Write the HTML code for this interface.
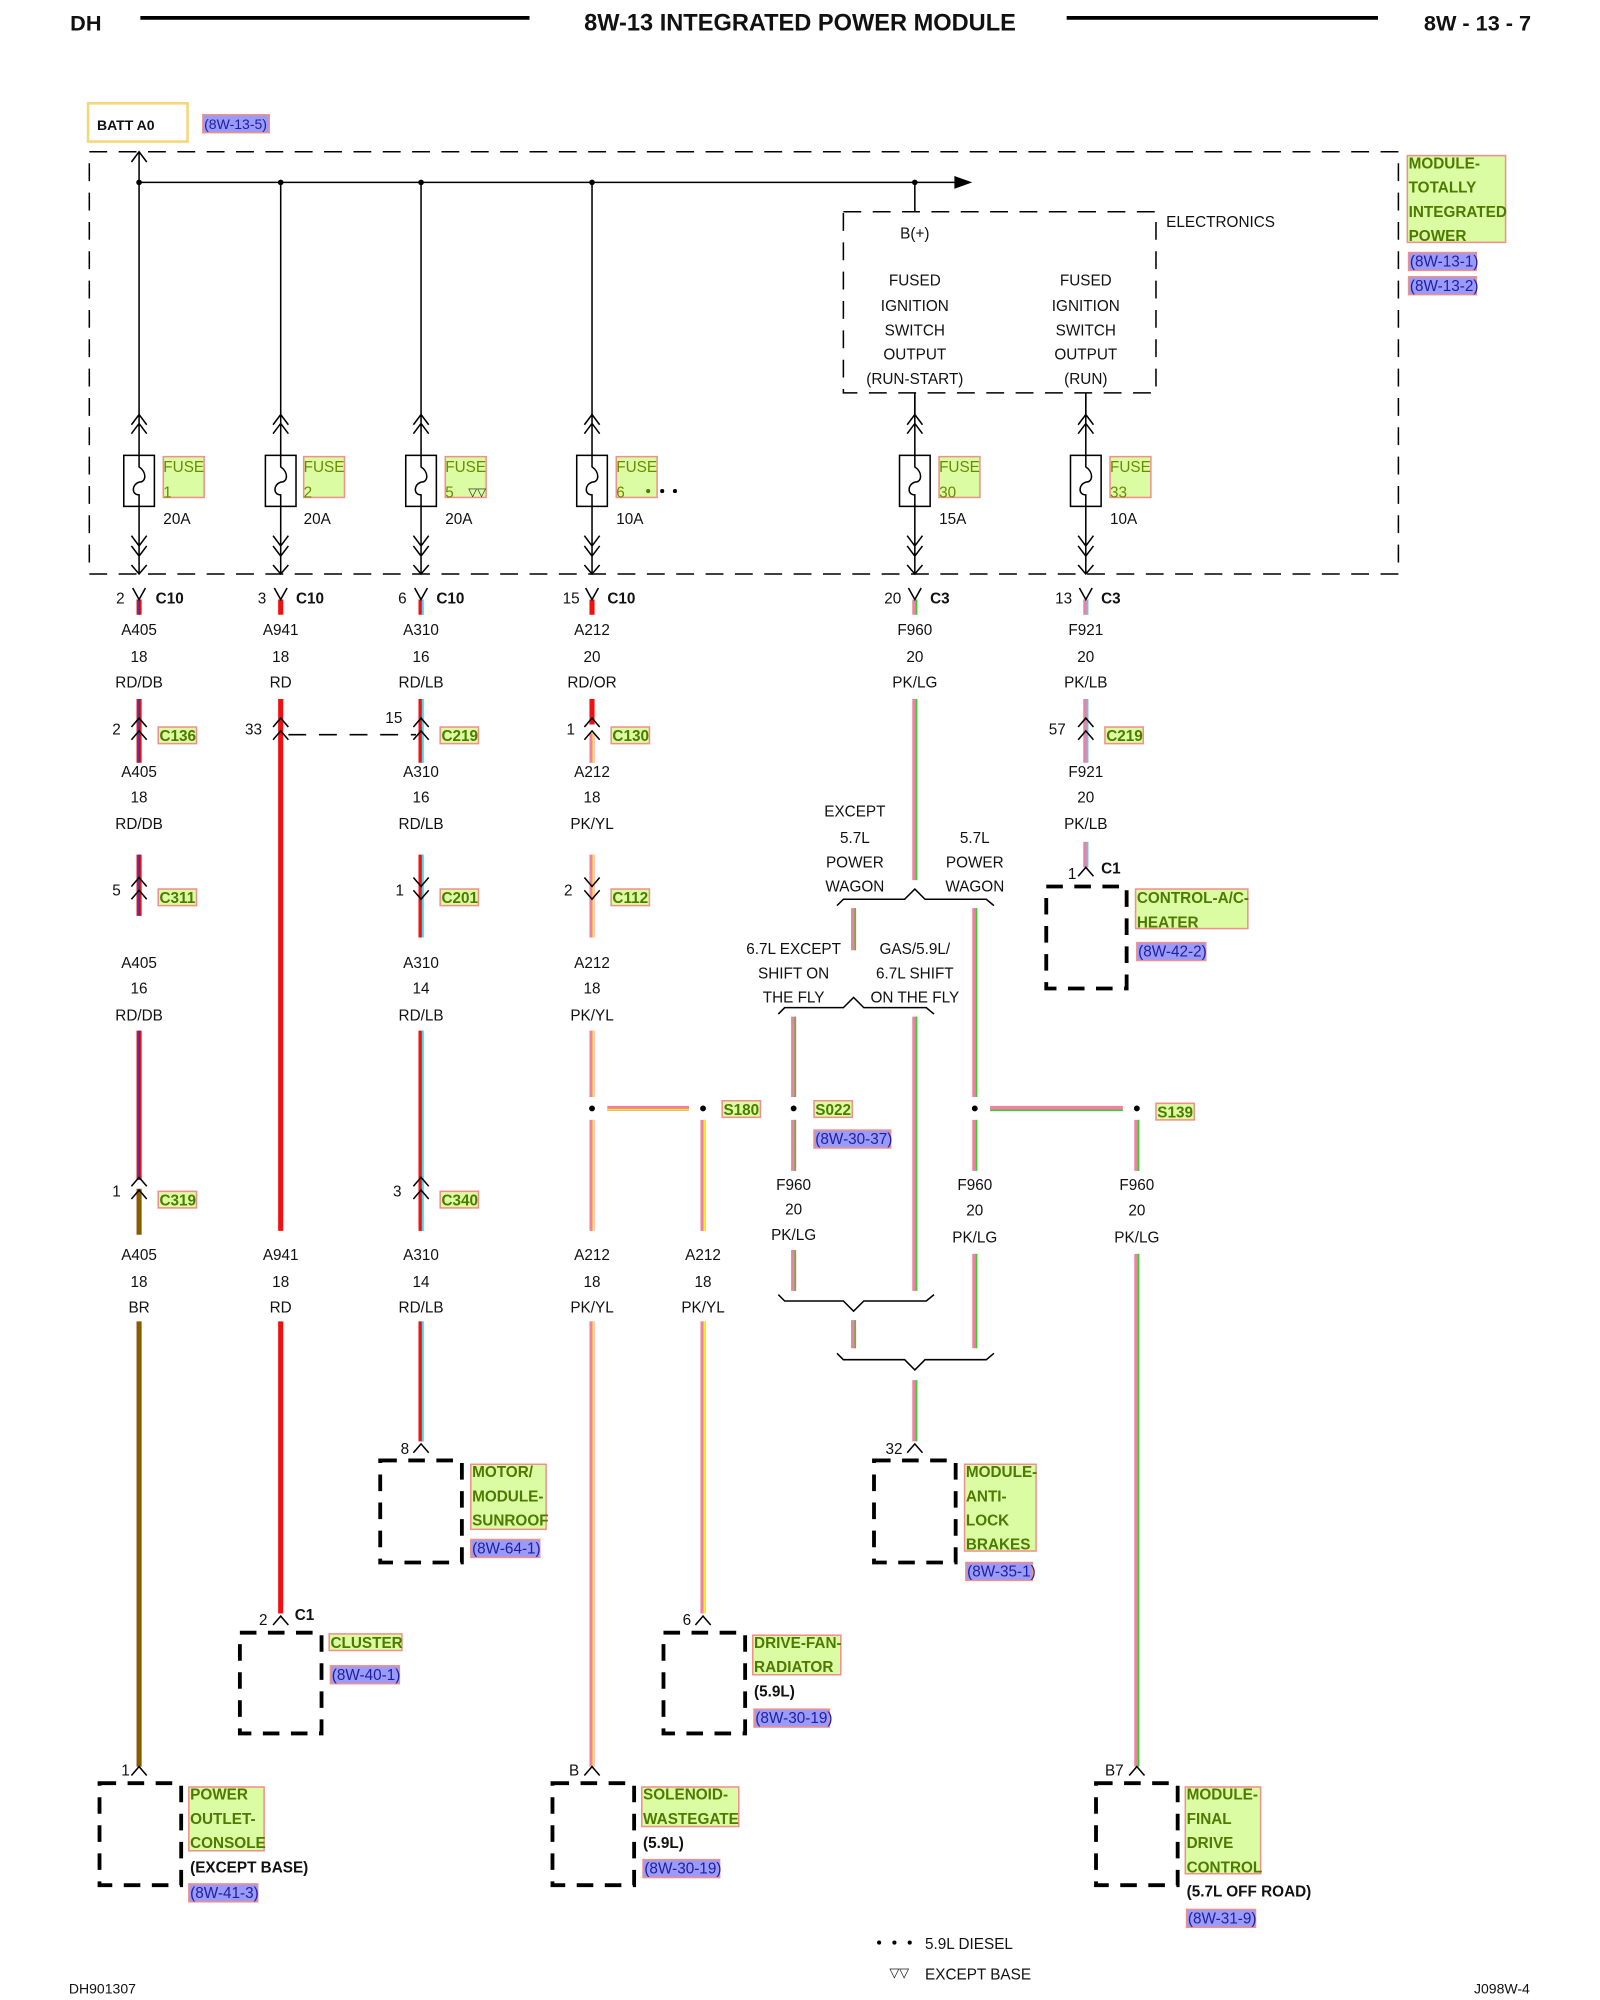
<!DOCTYPE html>
<html><head><meta charset="utf-8"><style>
html,body{margin:0;padding:0;background:#fff;}
svg{display:block;}
text{font-family:"Liberation Sans",Arial,sans-serif;font-size:12px;fill:#111;}
.b{font-weight:bold;}
.m{text-anchor:middle;}
.g{fill:#4d7a00;font-weight:bold;}
.r{fill:#1e1ea0;}
.gb{fill:#dcfca4;stroke:#f0908a;stroke-width:1.2;}
.bb{fill:#9a9af8;stroke:#f0908a;stroke-width:1.2;}
.k{stroke:#000;fill:none;stroke-width:1.2;}
.mod{fill:none;stroke:#000;stroke-width:3;stroke-dasharray:13 9;}
</style></head><body>
<svg width="1600" height="2000" viewBox="0 0 1254 1568" preserveAspectRatio="none" xmlns="http://www.w3.org/2000/svg">
<!-- header -->
<text x="55" y="24" class="b" style="font-size:17px">DH</text>
<line x1="110" y1="14" x2="415" y2="14" stroke="#000" stroke-width="3"/>
<text x="627" y="24" class="b m" style="font-size:18.5px">8W-13 INTEGRATED POWER MODULE</text>
<line x1="836" y1="14" x2="1080" y2="14" stroke="#000" stroke-width="3"/>
<text x="1200" y="24" class="b" style="font-size:17px;text-anchor:end">8W - 13 - 7</text>

<!-- BATT -->
<rect x="69" y="81" width="78" height="30" fill="#fff" stroke="#f5d77a" stroke-width="2"/>
<text x="76" y="102" class="b" style="font-size:11px">BATT A0</text>
<rect x="159" y="90" width="52" height="14" class="bb"/>
<text x="160" y="101" class="r" style="font-size:11px">(8W-13-5)</text>

<!-- module dashed box -->
<rect x="70" y="119" width="1026" height="331" fill="none" stroke="#000" stroke-width="1.2" stroke-dasharray="14 9"/>
<rect x="1103" y="122" width="77" height="68" class="gb"/>
<text x="1104" y="132" class="g">MODULE-</text>
<text x="1104" y="151" class="g">TOTALLY</text>
<text x="1104" y="170" class="g">INTEGRATED</text>
<text x="1104" y="189" class="g">POWER</text>
<rect x="1104" y="198" width="53" height="14" class="bb"/>
<text x="1105" y="209" class="r">(8W-13-1)</text>
<rect x="1104" y="217" width="53" height="14" class="bb"/>
<text x="1105" y="228" class="r">(8W-13-2)</text>

<!-- bus -->
<path class="k" d="M109 143 H752"/>
<path d="M748 138 L762 143 L748 148 Z" fill="#000"/>
<path class="k" d="M109 119 V325 M220 143 V325 M330 143 V325 M464 143 V325 M717 143 V166"/>
<path class="k" d="M103 127 L109 119 L115 127"/>
<g fill="#000"><circle cx="109" cy="143" r="2.2"/><circle cx="220" cy="143" r="2.2"/><circle cx="330" cy="143" r="2.2"/><circle cx="464" cy="143" r="2.2"/><circle cx="717" cy="143" r="2.2"/></g>

<!-- electronics box -->
<rect x="661" y="166" width="245" height="142" fill="none" stroke="#000" stroke-width="1.2" stroke-dasharray="14 9"/>
<text x="914" y="178">ELECTRONICS</text>
<text x="717" y="187" class="m">B(+)</text>
<text x="717" y="224" class="m">FUSED</text><text x="717" y="244" class="m">IGNITION</text><text x="717" y="263" class="m">SWITCH</text><text x="717" y="282" class="m">OUTPUT</text><text x="717" y="301" class="m">(RUN-START)</text>
<text x="851" y="224" class="m">FUSED</text><text x="851" y="244" class="m">IGNITION</text><text x="851" y="263" class="m">SWITCH</text><text x="851" y="282" class="m">OUTPUT</text><text x="851" y="301" class="m">(RUN)</text>
<path class="k" d="M717 308 V325 M851 308 V325"/>

<!-- fuses -->
<g id="fuses">
<path class="k" d="
M109 325 V450 M103 333 L109 325 L115 333 M103 340 L109 332 L115 340 M103 420 L109 428 L115 420 M103 428 L109 436 L115 428 M103 443 L109 450 L115 443
M220 325 V450 M214 333 L220 325 L226 333 M214 340 L220 332 L226 340 M214 420 L220 428 L226 420 M214 428 L220 436 L226 428 M214 443 L220 450 L226 443
M330 325 V450 M324 333 L330 325 L336 333 M324 340 L330 332 L336 340 M324 420 L330 428 L336 420 M324 428 L330 436 L336 428 M324 443 L330 450 L336 443
M464 325 V450 M458 333 L464 325 L470 333 M458 340 L464 332 L470 340 M458 420 L464 428 L470 420 M458 428 L464 436 L470 428 M458 443 L464 450 L470 443
M717 308 V450 M711 333 L717 325 L723 333 M711 340 L717 332 L723 340 M711 420 L717 428 L723 420 M711 428 L717 436 L723 428 M711 443 L717 450 L723 443
M851 308 V450 M845 333 L851 325 L857 333 M845 340 L851 332 L857 340 M845 420 L851 428 L857 420 M845 428 L851 436 L857 428 M845 443 L851 450 L857 443"/>
<g fill="#fff" stroke="#000" stroke-width="1.2">
<rect x="97" y="357" width="24" height="40"/><rect x="208" y="357" width="24" height="40"/><rect x="318" y="357" width="24" height="40"/><rect x="452" y="357" width="24" height="40"/><rect x="705" y="357" width="24" height="40"/><rect x="839" y="357" width="24" height="40"/>
</g>
<path class="k" d="M109 357 V366 C115 370 115 378 109 378 C103 380 103 388 109 388 V397
M220 357 V366 C226 370 226 378 220 378 C214 380 214 388 220 388 V397
M330 357 V366 C336 370 336 378 330 378 C324 380 324 388 330 388 V397
M464 357 V366 C470 370 470 378 464 378 C458 380 458 388 464 388 V397
M717 357 V366 C723 370 723 378 717 378 C711 380 711 388 717 388 V397
M851 357 V366 C857 370 857 378 851 378 C845 380 845 388 851 388 V397"/>
<g>
<rect x="128" y="358" width="32" height="32" class="gb"/><text x="128" y="370" style="fill:#6b8a00">FUSE</text><text x="128" y="390" style="fill:#6b8a00">1</text><text x="128" y="411">20A</text>
<rect x="238" y="358" width="32" height="32" class="gb"/><text x="238" y="370" style="fill:#6b8a00">FUSE</text><text x="238" y="390" style="fill:#6b8a00">2</text><text x="238" y="411">20A</text>
<rect x="349" y="358" width="32" height="32" class="gb"/><text x="349" y="370" style="fill:#6b8a00">FUSE</text><text x="349" y="390" style="fill:#6b8a00">5</text><text x="367" y="389" style="font-size:9px">▽▽</text><text x="349" y="411">20A</text>
<rect x="483" y="358" width="32" height="32" class="gb"/><text x="483" y="370" style="fill:#6b8a00">FUSE</text><text x="483" y="390" style="fill:#6b8a00">6</text><text x="483" y="411">10A</text>
<circle cx="508" cy="385" r="1.6" fill="#4d7a00"/><circle cx="519" cy="385" r="1.6" fill="#000"/><circle cx="529" cy="385" r="1.6" fill="#000"/>
<rect x="736" y="358" width="32" height="32" class="gb"/><text x="736" y="370" style="fill:#6b8a00">FUSE</text><text x="736" y="390" style="fill:#6b8a00">30</text><text x="736" y="411">15A</text>
<rect x="870" y="358" width="32" height="32" class="gb"/><text x="870" y="370" style="fill:#6b8a00">FUSE</text><text x="870" y="390" style="fill:#6b8a00">33</text><text x="870" y="411">10A</text>
</g>
</g>

<!-- wires -->
<g fill="none" stroke-width="4">
<path stroke="#f01010" d="M109 470V482M109 548V598M109 670V718M109 808V925"/>
<path stroke="#2040c0" stroke-width="1.3" d="M109 470V482M109 548V598M109 670V718M109 808V925"/>
<path stroke="#8a5a00" d="M109 932V968M109 1036V1385"/>
<path stroke="#f01010" d="M220 470V482M220 548V965M220 1036V1265"/>
<path stroke="#f01010" d="M330 470V482M330 548V598M330 670V735M330 808V965M330 1036V1130"/>
<path stroke="#40d8f0" stroke-width="1.3" transform="translate(1.2 0)" d="M330 470V482M330 548V598M330 670V735M330 808V965M330 1036V1130"/>
<path stroke="#f01010" d="M464 470V482M464 548V568"/>
<path stroke="#f080a0" d="M464 575V598M464 670V735M464 808V860M464 878V965M464 1036V1385M551 878V965M551 1036V1265M476 869H540"/>
<path stroke="#f8f020" stroke-width="1.3" transform="translate(1 0)" d="M464 575V598M464 670V735M464 808V860M464 878V965M464 1036V1385M551 878V965M551 1036V1265"/>
<path stroke="#f8f020" stroke-width="1.3" d="M476 870H540"/>
<path stroke="#f080a0" d="M717 470V482M717 548V690M717 1082V1130M669 712V745M669 1035V1057M764 712V860M764 878V918M764 983V1057M622 797V860M622 878V918M622 980V1012M717 797V1012M891 878V918M891 983V1385M776 869H880"/>
<path stroke="#30d030" stroke-width="1.2" transform="translate(1.3 0)" d="M717 470V482M717 548V690M717 1082V1130M669 712V745M669 1035V1057M764 712V860M764 878V918M764 983V1057M622 797V860M622 878V918M622 980V1012M717 797V1012M891 878V918M891 983V1385"/>
<path stroke="#30d030" stroke-width="1.2" d="M776 870.5H880"/>
<path stroke="#f080a0" d="M851 470V482M851 548V598M851 660V680"/>
<path stroke="#40d8f0" stroke-width="1.3" transform="translate(1.3 0)" d="M851 470V482M851 548V598M851 660V680"/>
</g>

<!-- C10 / C3 connectors -->
<path class="k" d="M104 461 L109 470 L114 461 M215 461 L220 470 L225 461 M325 461 L330 470 L335 461 M459 461 L464 470 L469 461 M712 461 L717 470 L722 461 M846 461 L851 470 L856 461"/>
<text x="91" y="473">2</text><text x="122" y="473" class="b">C10</text>
<text x="202" y="473">3</text><text x="232" y="473" class="b">C10</text>
<text x="312" y="473">6</text><text x="342" y="473" class="b">C10</text>
<text x="441" y="473">15</text><text x="476" y="473" class="b">C10</text>
<text x="693" y="473">20</text><text x="729" y="473" class="b">C3</text>
<text x="827" y="473">13</text><text x="863" y="473" class="b">C3</text>

<!-- wire labels -->
<g class="m">
<text x="109" y="498" class="m">A405</text><text x="109" y="519" class="m">18</text><text x="109" y="539" class="m">RD/DB</text>
<text x="220" y="498" class="m">A941</text><text x="220" y="519" class="m">18</text><text x="220" y="539" class="m">RD</text>
<text x="330" y="498" class="m">A310</text><text x="330" y="519" class="m">16</text><text x="330" y="539" class="m">RD/LB</text>
<text x="464" y="498" class="m">A212</text><text x="464" y="519" class="m">20</text><text x="464" y="539" class="m">RD/OR</text>
<text x="717" y="498" class="m">F960</text><text x="717" y="519" class="m">20</text><text x="717" y="539" class="m">PK/LG</text>
<text x="851" y="498" class="m">F921</text><text x="851" y="519" class="m">20</text><text x="851" y="539" class="m">PK/LB</text>

<text x="109" y="609" class="m">A405</text><text x="109" y="629" class="m">18</text><text x="109" y="650" class="m">RD/DB</text>
<text x="330" y="609" class="m">A310</text><text x="330" y="629" class="m">16</text><text x="330" y="650" class="m">RD/LB</text>
<text x="464" y="609" class="m">A212</text><text x="464" y="629" class="m">18</text><text x="464" y="650" class="m">PK/YL</text>
<text x="851" y="609" class="m">F921</text><text x="851" y="629" class="m">20</text><text x="851" y="650" class="m">PK/LB</text>

<text x="109" y="759" class="m">A405</text><text x="109" y="779" class="m">16</text><text x="109" y="800" class="m">RD/DB</text>
<text x="330" y="759" class="m">A310</text><text x="330" y="779" class="m">14</text><text x="330" y="800" class="m">RD/LB</text>
<text x="464" y="759" class="m">A212</text><text x="464" y="779" class="m">18</text><text x="464" y="800" class="m">PK/YL</text>

<text x="109" y="988" class="m">A405</text><text x="109" y="1009" class="m">18</text><text x="109" y="1029" class="m">BR</text>
<text x="220" y="988" class="m">A941</text><text x="220" y="1009" class="m">18</text><text x="220" y="1029" class="m">RD</text>
<text x="330" y="988" class="m">A310</text><text x="330" y="1009" class="m">14</text><text x="330" y="1029" class="m">RD/LB</text>
<text x="464" y="988" class="m">A212</text><text x="464" y="1009" class="m">18</text><text x="464" y="1029" class="m">PK/YL</text>
<text x="551" y="988" class="m">A212</text><text x="551" y="1009" class="m">18</text><text x="551" y="1029" class="m">PK/YL</text>

<text x="622" y="933" class="m">F960</text><text x="622" y="952" class="m">20</text><text x="622" y="972" class="m">PK/LG</text>
<text x="764" y="933" class="m">F960</text><text x="764" y="953" class="m">20</text><text x="764" y="974" class="m">PK/LG</text>
<text x="891" y="933" class="m">F960</text><text x="891" y="953" class="m">20</text><text x="891" y="974" class="m">PK/LG</text>

<text x="670" y="640" class="m">EXCEPT</text><text x="670" y="661" class="m">5.7L</text><text x="670" y="680" class="m">POWER</text><text x="670" y="699" class="m">WAGON</text>
<text x="764" y="661" class="m">5.7L</text><text x="764" y="680" class="m">POWER</text><text x="764" y="699" class="m">WAGON</text>
<text x="622" y="748" class="m">6.7L EXCEPT</text><text x="622" y="767" class="m">SHIFT ON</text><text x="622" y="786" class="m">THE FLY</text>
<text x="717" y="748" class="m">GAS/5.9L/</text><text x="717" y="767" class="m">6.7L SHIFT</text><text x="717" y="786" class="m">ON THE FLY</text>
</g>

<!-- braces -->
<path class="k" d="M656 710 L661 705 H709 L717 697 L725 705 H773 L779 710"/>
<path class="k" d="M610 795 L615 790 H661 L669 782 L677 790 H726 L732 795"/>
<path class="k" d="M610 1015 L615 1020 H661 L669 1028 L677 1020 H726 L732 1015"/>
<path class="k" d="M656 1061 L661 1066 H709 L717 1074 L725 1066 H773 L779 1061"/>

<!-- mid connectors -->
<path class="k" d="
M103 570 L109 563 L115 570 M103 580 L109 573 L115 580
M214 570 L220 563 L226 570 M214 580 L220 573 L226 580
M324 570 L330 563 L336 570 M324 580 L330 573 L336 580
M458 570 L464 563 L470 570 M458 580 L464 573 L470 580
M845 570 L851 563 L857 570 M845 580 L851 573 L857 580
M103 695 L109 688 L115 695 M103 705 L109 698 L115 705
M324 688 L330 695 L336 688 M324 698 L330 705 L336 698
M458 688 L464 695 L470 688 M458 698 L464 705 L470 698
M103 930 L109 923 L115 930 M103 940 L109 933 L115 940
M324 930 L330 923 L336 930 M324 940 L330 933 L336 940"/>
<path d="M226 576 H326" stroke="#000" stroke-width="1.2" stroke-dasharray="14 10" fill="none"/>
<text x="88" y="576">2</text><rect x="124" y="570" width="30" height="13" class="gb"/><text x="125" y="581" class="g">C136</text>
<text x="192" y="576">33</text>
<text x="302" y="567">15</text><rect x="345" y="570" width="30" height="13" class="gb"/><text x="346" y="581" class="g">C219</text>
<text x="444" y="576">1</text><rect x="479" y="570" width="30" height="13" class="gb"/><text x="480" y="581" class="g">C130</text>
<text x="822" y="576">57</text><rect x="866" y="570" width="30" height="13" class="gb"/><text x="867" y="581" class="g">C219</text>
<text x="88" y="702">5</text><rect x="124" y="697" width="30" height="13" class="gb"/><text x="125" y="708" class="g">C311</text>
<text x="310" y="702">1</text><rect x="345" y="697" width="30" height="13" class="gb"/><text x="346" y="708" class="g">C201</text>
<text x="442" y="702">2</text><rect x="479" y="697" width="30" height="13" class="gb"/><text x="480" y="708" class="g">C112</text>
<text x="88" y="938">1</text><rect x="124" y="934" width="30" height="13" class="gb"/><text x="125" y="945" class="g">C319</text>
<text x="308" y="938">3</text><rect x="345" y="934" width="30" height="13" class="gb"/><text x="346" y="945" class="g">C340</text>

<!-- splices -->
<g fill="#000"><circle cx="464" cy="869" r="2.3"/><circle cx="551" cy="869" r="2.3"/><circle cx="622" cy="869" r="2.3"/><circle cx="764" cy="869" r="2.3"/><circle cx="891" cy="869" r="2.3"/></g>
<rect x="566" y="863" width="30" height="13" class="gb"/><text x="567" y="874" class="g">S180</text>
<rect x="638" y="863" width="30" height="13" class="gb"/><text x="639" y="874" class="g">S022</text>
<rect x="638" y="886" width="60" height="14" class="bb"/><text x="639" y="897" class="r">(8W-30-37)</text>
<rect x="906" y="865" width="30" height="13" class="gb"/><text x="907" y="876" class="g">S139</text>

<!-- component connectors -->
<path class="k" d="M845 687 L851 680 L857 687 M324 1139 L330 1132 L336 1139 M711 1139 L717 1132 L723 1139 M214 1274 L220 1267 L226 1274 M545 1274 L551 1267 L557 1274 M103 1392 L109 1385 L115 1392 M458 1392 L464 1385 L470 1392 M885 1392 L891 1385 L897 1392"/>
<text x="837" y="689">1</text><text x="863" y="685" class="b">C1</text>
<text x="314" y="1140">8</text>
<text x="694" y="1140">32</text>
<text x="203" y="1274">2</text><text x="231" y="1270" class="b">C1</text>
<text x="535" y="1274">6</text>
<text x="95" y="1392">1</text>
<text x="446" y="1392">B</text>
<text x="866" y="1392">B7</text>

<!-- module boxes -->
<rect x="820" y="695" width="63" height="80" class="mod"/>
<rect x="298" y="1145" width="64" height="80" class="mod"/>
<rect x="685" y="1145" width="64" height="80" class="mod"/>
<rect x="188" y="1280" width="64" height="79" class="mod"/>
<rect x="520" y="1280" width="64" height="79" class="mod"/>
<rect x="78" y="1398" width="64" height="80" class="mod"/>
<rect x="433" y="1398" width="64" height="80" class="mod"/>
<rect x="859" y="1398" width="64" height="80" class="mod"/>

<!-- component labels -->
<rect x="890" y="697" width="88" height="31" class="gb"/><text x="891" y="708" class="g">CONTROL-A/C-</text><text x="891" y="727" class="g">HEATER</text>
<rect x="891" y="739" width="54" height="14" class="bb"/><text x="892" y="750" class="r">(8W-42-2)</text>

<rect x="369" y="1148" width="59" height="51" class="gb"/><text x="370" y="1158" class="g">MOTOR/</text><text x="370" y="1177" class="g">MODULE-</text><text x="370" y="1196" class="g">SUNROOF</text>
<rect x="369" y="1207" width="54" height="14" class="bb"/><text x="370" y="1218" class="r">(8W-64-1)</text>

<rect x="756" y="1148" width="56" height="68" class="gb"/><text x="757" y="1158" class="g">MODULE-</text><text x="757" y="1177" class="g">ANTI-</text><text x="757" y="1196" class="g">LOCK</text><text x="757" y="1215" class="g">BRAKES</text>
<rect x="757" y="1225" width="52" height="14" class="bb"/><text x="758" y="1236" class="r">(8W-35-1)</text>

<rect x="258" y="1281" width="57" height="13" class="gb"/><text x="259" y="1292" class="g">CLUSTER</text>
<rect x="259" y="1306" width="54" height="14" class="bb"/><text x="260" y="1317" class="r">(8W-40-1)</text>

<rect x="590" y="1282" width="69" height="31" class="gb"/><text x="591" y="1292" class="g">DRIVE-FAN-</text><text x="591" y="1311" class="g">RADIATOR</text>
<text x="591" y="1330" class="b">(5.9L)</text>
<rect x="591" y="1340" width="59" height="14" class="bb"/><text x="592" y="1351" class="r">(8W-30-19)</text>

<rect x="148" y="1401" width="59" height="50" class="gb"/><text x="149" y="1411" class="g">POWER</text><text x="149" y="1430" class="g">OUTLET-</text><text x="149" y="1449" class="g">CONSOLE</text>
<text x="149" y="1468" class="b">(EXCEPT BASE)</text>
<rect x="148" y="1477" width="54" height="14" class="bb"/><text x="149" y="1488" class="r">(8W-41-3)</text>

<rect x="503" y="1401" width="76" height="31" class="gb"/><text x="504" y="1411" class="g">SOLENOID-</text><text x="504" y="1430" class="g">WASTEGATE</text>
<text x="504" y="1449" class="b">(5.9L)</text>
<rect x="504" y="1458" width="60" height="14" class="bb"/><text x="505" y="1469" class="r">(8W-30-19)</text>

<rect x="929" y="1401" width="59" height="68" class="gb"/><text x="930" y="1411" class="g">MODULE-</text><text x="930" y="1430" class="g">FINAL</text><text x="930" y="1449" class="g">DRIVE</text><text x="930" y="1468" class="g">CONTROL</text>
<text x="930" y="1487" class="b">(5.7L OFF ROAD)</text>
<rect x="930" y="1497" width="54" height="14" class="bb"/><text x="931" y="1508" class="r">(8W-31-9)</text>

<!-- legend -->
<g fill="#000"><circle cx="689" cy="1523" r="1.6"/><circle cx="701" cy="1523" r="1.6"/><circle cx="713" cy="1523" r="1.6"/></g>
<text x="725" y="1528">5.9L DIESEL</text>
<text x="697" y="1550" style="font-size:10px">▽▽</text>
<text x="725" y="1552">EXCEPT BASE</text>
<text x="54" y="1563" style="font-size:11px">DH901307</text>
<text x="1199" y="1563" style="font-size:11px;text-anchor:end">J098W-4</text>
</svg>
</body></html>
